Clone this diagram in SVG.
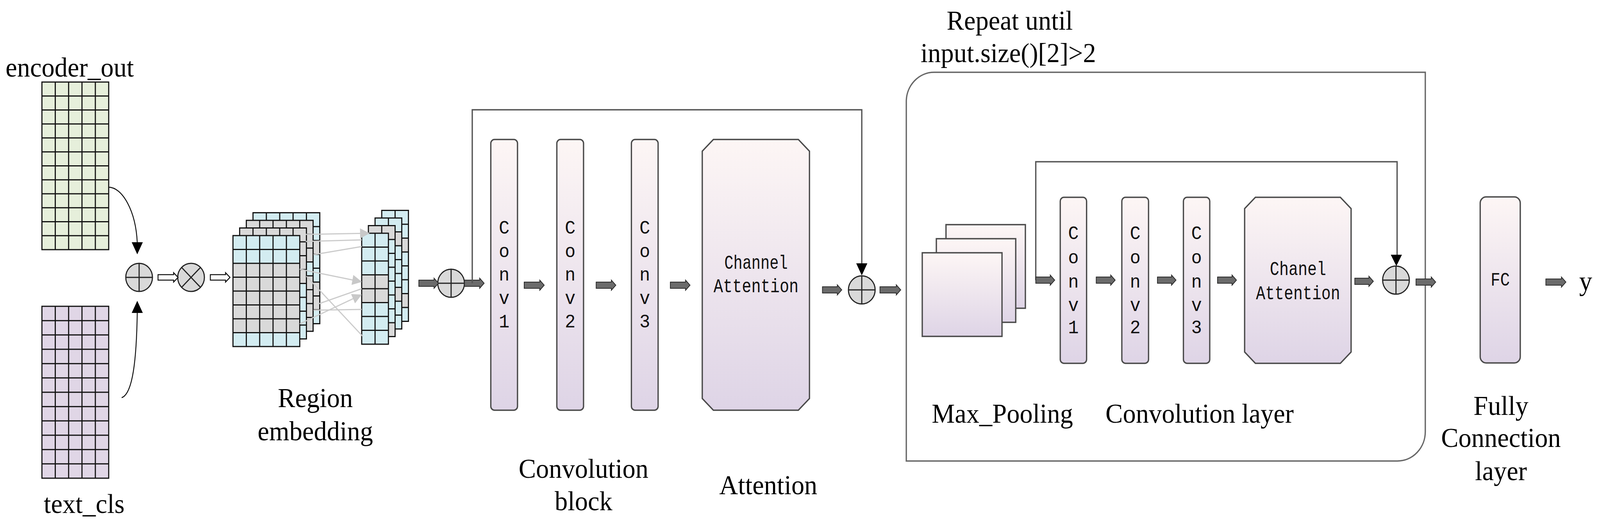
<svg xmlns="http://www.w3.org/2000/svg" xmlns:xlink="http://www.w3.org/1999/xlink" width="4313" height="1331" viewBox="0 0 4313 1331">
<style>
.lbl{font-family:"Liberation Serif","Times New Roman",serif;font-size:70px;fill:#000}
.mono{font-family:"Liberation Mono","DejaVu Sans Mono",monospace;fill:#111}
.cv{font-size:48px;text-anchor:middle}
.ca{font-size:50px;text-anchor:middle}
.gl{fill:none;stroke:#111;stroke-width:3}
.box{fill:url(#pg);stroke:#4a4a4a;stroke-width:3.5}
.circ{fill:#d9d9d9;stroke:#222;stroke-width:3}
.cx{fill:none;stroke:#222;stroke-width:3}
.darr{fill:#6b6b6b;stroke:#2a2a2a;stroke-width:2}
.harr{fill:#fff;stroke:#111;stroke-width:2.5}
.skip{fill:none;stroke:#555;stroke-width:3.5}
.curve{fill:none;stroke:#111;stroke-width:2.5}
.gray{fill:none;stroke:#cbcbcb;stroke-width:3}
.B{fill:#d3ecf1}
.G{fill:#d9d9d9}
</style>
<defs>
<linearGradient id="pg" x1="0" y1="0" x2="0" y2="1">
<stop offset="0" stop-color="#fdf6f5"/>
<stop offset="1" stop-color="#ded4e6"/>
</linearGradient>
<marker id="ga" viewBox="0 0 10 10" refX="9" refY="5" markerWidth="28" markerHeight="26" markerUnits="userSpaceOnUse" orient="auto">
<path d="M0,0L10,5L0,10Z" fill="#c8c8c8"/>
</marker>
<path id="g5x8" class="gl" d="M0,0H180V284H0Z M36,0V284 M72,0V284 M108,0V284 M144,0V284 M0,35.5H180 M0,71H180 M0,106.5H180 M0,142H180 M0,177.5H180 M0,213H180 M0,248.5H180"/>
<path id="g2x8" class="gl" d="M0,0H72V284H0Z M36,0V284 M0,35.5H72 M0,71H72 M0,106.5H72 M0,142H72 M0,177.5H72 M0,213H72 M0,248.5H72"/>
</defs>
<rect width="4313" height="1331" fill="#fff"/>
<g id="diagram" transform="scale(0.9497,1)">

<g id="encoder_out">
<text class="lbl" x="15" y="196">encoder_out</text>
<rect x="113" y="210" width="180" height="429" fill="#e6efdb"/>
<path class="gl" transform="translate(113,210)" d="M0,0H180V429H0Z M36,0V429 M72,0V429 M108,0V429 M144,0V429 M0,35.75H180 M0,71.5H180 M0,107.25H180 M0,143H180 M0,178.75H180 M0,214.5H180 M0,250.25H180 M0,286H180 M0,321.75H180 M0,357.5H180 M0,393.25H180"/>
</g>

<g id="text_cls">
<rect x="113" y="784" width="180" height="440" fill="#e0d6e6"/>
<path class="gl" transform="translate(113,784)" d="M0,0H180V440H0Z M36,0V440 M72,0V440 M108,0V440 M144,0V440 M0,36.67H180 M0,73.33H180 M0,110H180 M0,146.67H180 M0,183.33H180 M0,220H180 M0,256.67H180 M0,293.33H180 M0,330H180 M0,366.67H180 M0,403.33H180"/>
<text class="lbl" x="118" y="1313">text_cls</text>
</g>

<g id="add1">
<circle class="circ" cx="375" cy="710" r="36"/>
<path class="cx" d="M339,710H411M375,674V746"/>
</g>

<g id="mul1">
<circle class="circ" cx="515" cy="710" r="36"/>
<path class="cx" d="M490,685L540,735M540,685L490,735"/>
</g>

<g id="region_embedding">
<g transform="translate(682,544.5)">
<rect class="B" width="180" height="71"/><rect class="G" y="71" width="180" height="35.5"/><rect class="B" y="106.5" width="180" height="71"/><rect class="G" y="177.5" width="180" height="71"/><rect class="B" y="248.5" width="180" height="35.5"/>
<use xlink:href="#g5x8"/>
</g>
<g transform="translate(664,564)">
<rect class="G" width="180" height="106.5"/><rect class="B" y="106.5" width="180" height="35.5"/><rect class="G" y="142" width="180" height="142"/>
<use xlink:href="#g5x8"/>
</g>
<g transform="translate(646,583.5)">
<rect class="G" width="180" height="142"/><rect class="B" y="142" width="180" height="142"/>
<use xlink:href="#g5x8"/>
</g>
<g transform="translate(628,603)">
<rect class="B" width="180" height="71"/><rect class="G" y="71" width="180" height="177.5"/><rect class="B" y="248.5" width="180" height="35.5"/>
<use xlink:href="#g5x8"/>
</g>
<g transform="translate(1029,538.5)">
<rect class="B" width="72" height="71"/><rect class="G" y="71" width="72" height="35.5"/><rect class="B" y="106.5" width="72" height="106.5"/><rect class="G" y="213" width="72" height="35.5"/><rect class="B" y="248.5" width="72" height="35.5"/>
<use xlink:href="#g2x8"/>
</g>
<g transform="translate(1011,558)">
<rect class="B" width="72" height="35.5"/><rect class="G" y="35.5" width="72" height="35.5"/><rect class="B" y="71" width="72" height="106.5"/><rect class="G" y="177.5" width="72" height="35.5"/><rect class="B" y="213" width="72" height="71"/>
<use xlink:href="#g2x8"/>
</g>
<g transform="translate(993,577.5)">
<rect class="G" width="72" height="35.5"/><rect class="B" y="35.5" width="72" height="213"/><rect class="G" y="248.5" width="72" height="35.5"/>
<use xlink:href="#g2x8"/>
</g>
<g transform="translate(975,597)">
<rect class="B" width="72" height="106.5"/><rect class="G" y="106.5" width="72" height="71"/><rect class="B" y="177.5" width="72" height="106.5"/>
<use xlink:href="#g2x8"/>
</g>
<text class="lbl" x="850" y="1042" text-anchor="middle">Region</text>
<text class="lbl" x="850" y="1127" text-anchor="middle">embedding</text>
</g>

<g id="add2">
<circle class="circ" cx="1216" cy="725" r="36"/>
<path class="cx" d="M1180,725H1252M1216,689V761"/>
</g>

<g id="conv_block">
<rect class="box" x="1323" y="357" width="72" height="693" rx="10"/>
<rect class="box" x="1501" y="357" width="72" height="693" rx="10"/>
<rect class="box" x="1702" y="357" width="72" height="693" rx="10"/>
<g class="mono cv">
<text x="1359" y="598">C</text><text x="1359" y="658">o</text><text x="1359" y="718">n</text><text x="1359" y="778">v</text><text x="1359" y="838">1</text>
<text x="1537" y="598">C</text><text x="1537" y="658">o</text><text x="1537" y="718">n</text><text x="1537" y="778">v</text><text x="1537" y="838">2</text>
<text x="1738" y="598">C</text><text x="1738" y="658">o</text><text x="1738" y="718">n</text><text x="1738" y="778">v</text><text x="1738" y="838">3</text>
</g>
<text class="lbl" x="1573" y="1223" text-anchor="middle">Convolution</text>
<text class="lbl" x="1573" y="1306" text-anchor="middle">block</text>
</g>

<g id="channel_attention">
<path class="box" d="M1923,357H2152L2182,387V1020L2152,1050H1923L1893,1020V387Z"/>
<text class="mono ca" x="2038" y="688" textLength="171" lengthAdjust="spacingAndGlyphs">Channel</text>
<text class="mono ca" x="2038" y="748" textLength="229" lengthAdjust="spacingAndGlyphs">Attention</text>
<text class="lbl" x="2071" y="1265" text-anchor="middle">Attention</text>
</g>

<g id="add3">
<circle class="circ" cx="2323" cy="742" r="36"/>
<path class="cx" d="M2287,742H2359M2323,706V778"/>
</g>

<g id="repeat_block">
<path d="M2443,1180V260A75,75 0 0 1 2518,185H3842V1105A75,75 0 0 1 3767,1180Z" fill="none" stroke="#666" stroke-width="3.5"/>
<text class="lbl" x="2722" y="76" text-anchor="middle">Repeat until</text>
<text class="lbl" x="2718" y="159" text-anchor="middle">input.size()[2]&gt;2</text>
</g>

<g id="max_pooling">
<rect class="box" x="2550" y="575" width="214" height="214" stroke="#333"/>
<rect class="box" x="2524" y="611" width="214" height="214" stroke="#333"/>
<rect class="box" x="2486" y="647" width="215" height="214" stroke="#333"/>
<text class="lbl" x="2702" y="1082" text-anchor="middle">Max_Pooling</text>
</g>

<g id="conv_layer">
<rect class="box" x="2858" y="505" width="71" height="425" rx="10"/>
<rect class="box" x="3024" y="505" width="72" height="425" rx="10"/>
<rect class="box" x="3190" y="505" width="71" height="425" rx="10"/>
<g class="mono cv">
<text x="2893.5" y="612">C</text><text x="2893.5" y="674">o</text><text x="2893.5" y="736">n</text><text x="2893.5" y="796">v</text><text x="2893.5" y="853">1</text>
<text x="3060" y="612">C</text><text x="3060" y="674">o</text><text x="3060" y="736">n</text><text x="3060" y="796">v</text><text x="3060" y="853">2</text>
<text x="3225.5" y="612">C</text><text x="3225.5" y="674">o</text><text x="3225.5" y="736">n</text><text x="3225.5" y="796">v</text><text x="3225.5" y="853">3</text>
</g>
<text class="lbl" x="2980" y="1082">Convolution layer</text>
</g>

<g id="chanel_attention">
<path class="box" d="M3384,505H3613L3642,534V901L3613,930H3384L3355,901V534Z"/>
<text class="mono ca" x="3499" y="704" textLength="152" lengthAdjust="spacingAndGlyphs">Chanel</text>
<text class="mono ca" x="3499" y="766" textLength="227" lengthAdjust="spacingAndGlyphs">Attention</text>
</g>

<g id="add4">
<circle class="circ" cx="3763" cy="717" r="36"/>
<path class="cx" d="M3727,717H3799M3763,681V753"/>
</g>

<g id="fc">
<rect class="box" x="3990" y="504" width="108" height="425" rx="16"/>
<text class="mono" x="4044" y="731" font-size="48" text-anchor="middle" textLength="52" lengthAdjust="spacingAndGlyphs">FC</text>
<text class="lbl" x="4046" y="1062" text-anchor="middle">Fully</text>
<text class="lbl" x="4046" y="1144" text-anchor="middle">Connection</text>
<text class="lbl" x="4046" y="1229" text-anchor="middle">layer</text>
</g>

<g id="output_y">
<text class="lbl" x="4257" y="743">y</text>
</g>

<g id="connectors">
<path class="curve" d="M292,479C330,479 366,540 370,621"/>
<path d="M355,620L385,620L370,651Z" fill="#000"/>
<path class="curve" d="M328,1018C358,1008 368,920 370,800"/>
<path d="M355,801L385,801L370,770Z" fill="#000"/>
<path class="harr" d="M426,703H468V698L480,710L468,722V717H426Z"/>
<path class="harr" d="M567,703H608V698L620,710L608,722V717H567Z"/>
<path class="gray" d="M824,600L994,597" marker-end="url(#ga)"/>
<path class="gray" d="M824,618L975,614"/>
<path class="gray" d="M845,652L975,631"/>
<path class="gray" d="M808,689L973,721" marker-end="url(#ga)"/>
<path class="gray" d="M858,778L975,739"/>
<path class="gray" d="M808,829L973,755" marker-end="url(#ga)"/>
<path class="gray" d="M845,794L975,792"/>
<path class="gray" stroke-width="2" d="M826,707L978,861"/>
<path class="darr" d="M1129,717H1170V712L1182,725L1170,738V733H1129Z"/>
<path class="darr" d="M1252,717H1293V712L1305,725L1293,738V733H1252Z"/>
<path class="skip" d="M1273,725V281H2323V676"/>
<path d="M2308,674L2338,674L2323,705Z" fill="#000"/>
<path class="darr" d="M1413,722H1455V717L1467,730L1455,743V738H1413Z"/>
<path class="darr" d="M1607,722H1648V717L1660,730L1648,743V738H1607Z"/>
<path class="darr" d="M1807,722H1848V717L1860,730L1848,743V738H1807Z"/>
<path class="darr" d="M2217,734H2257V729L2269,742L2257,755V750H2217Z"/>
<path class="darr" d="M2372,734H2416V729L2428,742L2416,755V750H2372Z"/>
<path class="skip" d="M2792,717V414H3766V654"/>
<path d="M3749,652L3779,652L3764,681Z" fill="#000"/>
<path class="darr" d="M2792,709H2831V704L2843,717L2831,730V725H2792Z"/>
<path class="darr" d="M2955,709H2994V704L3006,717L2994,730V725H2955Z"/>
<path class="darr" d="M3120,709H3158V704L3170,717L3158,730V725H3120Z"/>
<path class="darr" d="M3282,709H3321V704L3333,717L3321,730V725H3282Z"/>
<path class="darr" d="M3652,712H3690V707L3702,720L3690,733V728H3652Z"/>
<path class="darr" d="M3817,714H3858V709L3870,722L3858,735V730H3817Z"/>
<path class="darr" d="M4167,714H4209V709L4221,722L4209,735V730H4167Z"/>
</g>
</g>
</svg>
